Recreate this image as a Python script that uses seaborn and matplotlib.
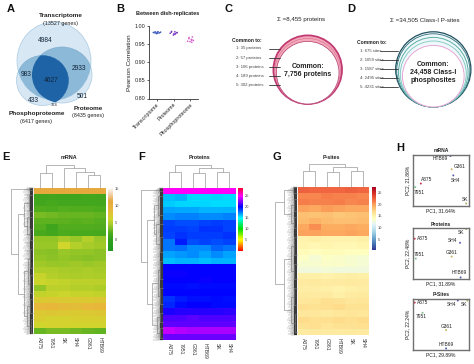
import matplotlib
matplotlib.use('Agg')
import matplotlib.pyplot as plt
import numpy as np
import pandas as pd
import seaborn as sns
from matplotlib.colors import LinearSegmentedColormap
from matplotlib.patches import Ellipse, Circle

# ---------- data ----------
venn_counts = ['4984', '983', '4627', '2933', '433', '374', '501']

replicate_groups = ['Transcriptome', 'Proteome', 'Phosphoproteome']
transcriptome_r = [0.981, 0.982, 0.983, 0.984, 0.980, 0.982, 0.981, 0.983, 0.979, 0.984]
proteome_r = [0.975, 0.978, 0.980, 0.982, 0.984, 0.985, 0.979, 0.983, 0.981, 0.977]
phospho_r = [0.955, 0.958, 0.960, 0.962, 0.965, 0.968, 0.957, 0.963, 0.970, 0.961]

proteins_common = ['1: 35 proteins', '2: 57 proteins', '3: 106 proteins', '4: 189 proteins', '5: 302 proteins']
sites_common = ['1: 675 sites', '2: 1059 sites', '3: 1587 sites', '4: 2495 sites', '5: 4231 sites']

mrna_cols = ['A375', '7951', 'SK', 'SH4', 'G361', 'HTB69']
protein_cols = ['A375', '7951', 'G361', 'HTB69', 'SK', 'SH4']
psite_cols = ['A375', '7951', 'G361', 'HTB69', 'SK', 'SH4']

mrna_rows = [
    [11.3, 11.3, 11.3, 11.3, 11.3, 11.3],
    [0.8, 0.9, 0.8, 0.8, 1.0, 0.9],
    [1.0, 1.2, 1.0, 1.1, 1.0, 1.0],
    [1.8, 1.6, 2.0, 1.8, 1.8, 1.6],
    [3.0, 2.8, 2.5, 2.5, 2.6, 2.4],
    [2.3, 2.3, 2.2, 2.1, 2.2, 2.0],
    [2.0, 0.8, 1.8, 1.9, 1.9, 1.7],
    [1.3, 1.0, 1.5, 1.3, 1.3, 1.2],
    [3.8, 3.8, 4.5, 4.0, 5.0, 4.0],
    [4.0, 4.0, 6.0, 5.0, 4.5, 4.2],
    [3.6, 3.5, 4.0, 3.8, 3.8, 3.6],
    [3.8, 3.6, 3.8, 3.6, 3.5, 3.6],
    [4.2, 4.0, 4.0, 4.2, 4.0, 4.2],
    [4.8, 4.8, 4.5, 4.4, 4.6, 4.4],
    [5.6, 5.0, 4.8, 4.6, 4.8, 4.6],
    [5.8, 5.6, 5.4, 5.2, 5.2, 5.2],
    [3.8, 5.2, 5.2, 5.0, 5.0, 4.8],
    [5.4, 5.6, 5.8, 5.6, 5.6, 5.4],
    [7.0, 7.2, 7.0, 7.2, 7.0, 7.4],
    [8.6, 8.8, 8.4, 8.2, 8.6, 8.8],
    [7.2, 7.4, 7.2, 7.0, 7.2, 7.4],
    [6.8, 6.4, 6.4, 6.6, 6.6, 6.6],
    [6.0, 6.4, 6.2, 6.2, 6.2, 6.2],
    [2.5, 3.0, 3.0, 2.8, 2.6, 2.4],
]
protein_rows = [
    [25.0, 25.0, 25.0, 25.0, 25.0, 25.0],
    [16.2, 16.4, 15.6, 15.6, 15.8, 15.6],
    [16.0, 15.8, 15.8, 15.8, 15.6, 15.6],
    [16.8, 16.6, 16.6, 16.4, 16.4, 16.4],
    [17.2, 17.4, 17.4, 17.2, 17.2, 17.4],
    [18.6, 18.4, 18.4, 18.6, 18.8, 18.6],
    [18.8, 18.8, 18.6, 19.0, 19.0, 18.6],
    [18.6, 19.0, 18.8, 18.8, 18.8, 19.0],
    [17.6, 19.4, 18.4, 18.6, 18.4, 18.6],
    [17.6, 17.8, 17.2, 17.2, 18.0, 17.6],
    [16.8, 17.0, 17.2, 16.8, 17.2, 16.8],
    [16.2, 16.4, 16.4, 16.2, 16.4, 16.4],
    [20.0, 20.0, 20.0, 20.0, 20.0, 20.0],
    [20.1, 20.1, 20.0, 20.0, 20.0, 20.0],
    [20.0, 20.0, 20.0, 20.1, 20.0, 20.0],
    [19.8, 19.8, 19.6, 19.8, 19.8, 19.8],
    [19.9, 19.9, 19.9, 19.9, 19.9, 19.9],
    [19.0, 19.4, 19.6, 19.6, 19.8, 19.6],
    [19.2, 19.8, 20.0, 20.0, 19.8, 19.8],
    [20.4, 20.6, 20.6, 20.6, 20.6, 20.8],
    [21.4, 21.4, 21.6, 21.4, 21.4, 21.4],
    [21.8, 21.8, 21.8, 21.8, 21.8, 21.8],
    [23.8, 23.4, 23.2, 23.2, 23.2, 23.2],
    [22.0, 22.0, 22.0, 22.0, 22.0, 22.0],
]
psite_rows = [
    [22.6, 22.4, 22.4, 22.4, 22.6, 22.4],
    [21.0, 21.0, 21.4, 21.2, 21.2, 21.0],
    [21.4, 21.2, 21.2, 21.4, 21.0, 21.2],
    [19.8, 19.6, 20.0, 19.8, 19.6, 19.6],
    [18.4, 18.2, 18.4, 18.0, 18.2, 18.4],
    [18.6, 19.0, 18.6, 18.4, 18.4, 18.6],
    [19.6, 20.6, 19.4, 19.4, 19.6, 19.4],
    [19.8, 19.8, 19.6, 19.6, 19.8, 19.6],
    [15.0, 15.2, 15.0, 15.0, 15.0, 15.2],
    [14.8, 14.6, 14.8, 14.6, 14.6, 14.8],
    [14.2, 14.0, 14.2, 14.2, 14.0, 14.0],
    [13.6, 13.0, 13.6, 13.4, 13.2, 13.0],
    [13.2, 13.2, 13.4, 13.4, 13.2, 13.0],
    [12.6, 12.6, 12.8, 12.6, 12.6, 12.6],
    [15.2, 15.2, 15.0, 15.2, 15.4, 15.2],
    [15.6, 15.8, 15.6, 15.6, 15.8, 15.6],
    [15.4, 15.4, 15.2, 15.0, 15.2, 15.4],
    [15.8, 15.6, 15.6, 15.2, 15.6, 15.8],
    [16.0, 16.2, 16.6, 16.4, 16.0, 16.2],
    [16.6, 16.4, 16.6, 16.8, 16.4, 16.4],
    [16.0, 16.0, 15.8, 16.0, 16.2, 16.0],
    [16.8, 16.6, 16.6, 16.8, 16.6, 16.8],
    [16.4, 16.6, 16.2, 16.4, 16.4, 16.6],
    [15.6, 15.8, 15.6, 15.6, 15.8, 15.6],
]

pca_cells = ['A375', '7951', 'G361', 'SH4', 'SK', 'HTB69']
pca_colors = ['#d0304a', '#7fbf8f', '#c8b060', '#5a5ab0', '#b0b060', '#5060b0']
mrna_pc1 = [14, 4, 69, 72, 95, 67]
mrna_pc2 = [44, 37, 72, 60, 5, 98]
protein_pc1 = [3, 5, 69, 84, 95, 85]
protein_pc2 = [79, 40, 44, 71, 98, 3]
psite_pc1 = [3, 17, 59, 80, 97, 59]
psite_pc2 = [93, 73, 39, 97, 97, 3]

# ---------- set up ----------
sns.set_style('white')
plt.rcParams['font.family'] = ['Liberation Sans', 'DejaVu Sans']
W, H = 474, 364
fig = plt.figure(figsize=(W / 100, H / 100), dpi=100, facecolor='white')


def px_axes(x0, y0, x1, y1, **kw):
    return fig.add_axes([x0 / W, 1 - y1 / H, (x1 - x0) / W, (y1 - y0) / H], **kw)


# overlay in picture pixels, for text, venns and trees
ov = px_axes(0, 0, W, H, zorder=5)
ov.set_xlim(0, W)
ov.set_ylim(H, 0)
ov.axis('off')
ov.patch.set_alpha(0)

TXT = '#222222'


def t(x, y, s, size=4.0, bold=False, ha='center', color=TXT, rot=0, va='center'):
    ov.text(x, y, s, fontsize=size, fontweight='bold' if bold else 'normal',
            ha=ha, va=va, color=color, rotation=rot)


for letter, lx, ly in [('A', 11, 9), ('B', 120, 9), ('C', 229, 9), ('D', 351, 9), ('E', 6, 157),
                       ('F', 142, 157), ('G', 277, 157), ('H', 400, 148)]:
    t(lx, ly, letter, size=8, bold=True, color='#111111')

# ---------- A: venn ----------
LIGHT, MID, DARK, EDGE = '#d7e7f4', '#8cb9d8', '#1d63a6', '#a9cbe3'
t_shape = dict(xy=(54, 61), width=74, height=78)
ph_shape = dict(xy=(42.5, 80.5), width=52, height=50)
pr_shape = dict(xy=(62, 75), width=60, height=56)
ov.add_patch(Ellipse(**ph_shape, fc=LIGHT, ec=EDGE, lw=0.5))
ov.add_patch(Ellipse(**pr_shape, fc=LIGHT, ec=EDGE, lw=0.5))
clip_t = Ellipse(**t_shape, fc=LIGHT, ec=EDGE, lw=0.5)
ov.add_patch(clip_t)
for shape in (ph_shape, pr_shape):
    part = Ellipse(**shape, fc=MID, ec='#7aa9cc', lw=0.4)
    ov.add_patch(part)
    part.set_clip_path(clip_t)
clip_pr = Ellipse(**pr_shape, fc='none', ec='none')
ov.add_patch(clip_pr)
core = Ellipse(**ph_shape, fc=DARK, ec=DARK, lw=0.3)
ov.add_patch(core)
core.set_clip_path(clip_pr)

venn_xy = [(45, 40), (26, 75), (51, 80), (79, 68), (33, 101), (54, 104.5), (82, 97)]
for (vx, vy), lab in zip(venn_xy, venn_counts):
    t(vx, vy, lab, size=3.0 if lab == '374' else 4.8, color='#12263a')
t(61, 16, 'Transcriptome', size=4.6, bold=True)
t(61, 23, '(13527 genes)', size=3.9)
t(37, 114, 'Phosphoproteome', size=4.6, bold=True)
t(36, 122, '(6417 genes)', size=3.9)
t(88, 109, 'Proteome', size=4.6, bold=True)
t(88, 116, '(8435 genes)', size=3.9)

# ---------- B: replicate correlations ----------
rep_df = pd.DataFrame({
    'group': np.repeat(replicate_groups, [len(transcriptome_r), len(proteome_r), len(phospho_r)]),
    'r': transcriptome_r + proteome_r + phospho_r,
})
ax_b = px_axes(149, 26, 198, 98.5)
sns.stripplot(data=rep_df, x='group', y='r', hue='group', ax=ax_b, jitter=0.25, size=1.2, linewidth=0,
              palette=['#3f5cc0', '#7a3fc0', '#d763cf'], legend=False)
ax_b.set_ylim(0.80, 1.00)
ax_b.set_yticks([0.80, 0.85, 0.90, 0.95, 1.00])
ax_b.set_yticklabels(['0.80', '0.85', '0.90', '0.95', '1.00'])
ax_b.set_xlabel('')
ax_b.set_ylabel('Pearson Correlation', fontsize=4.6, color=TXT, labelpad=2)
ax_b.tick_params(axis='y', labelsize=3.9, length=1.5, width=0.5, pad=1, left=True, colors=TXT)
ax_b.tick_params(axis='x', labelsize=3.9, length=1.5, width=0.5, pad=1, bottom=True, colors=TXT)
plt.setp(ax_b.get_xticklabels(), rotation=45, ha='right', rotation_mode='anchor')
sns.despine(ax=ax_b)
for s in ('left', 'bottom'):
    ax_b.spines[s].set_linewidth(0.6)
    ax_b.spines[s].set_color('#333333')
t(168, 13.5, 'Between dish-replicates', size=4.0, bold=True)

# ---------- C and D: nested rings ----------
t(301, 19.5, '\u03a3 =8,455 proteins', size=4.4)
t(425, 19.5, '\u03a3 =34,505 Class-I P-sites', size=4.4)
t(232, 41, 'Common to:', size=3.6, bold=True, ha='left')
t(357, 43, 'Common to:', size=3.6, bold=True, ha='left')

c_x, c_bottom = 307.7, 104
c_rings = [(34.3, '#c23a73', '#f4a9b9', 1.3), (32.8, '#d56a94', '#f4a9b9', 0.4), (31.3, '#b0396d', 'white', 0.5)]
for r, ec, fc, lw in c_rings:
    ov.add_patch(Circle((c_x, c_bottom - r), r, ec=ec, fc=fc, lw=lw))
t(c_x, 67, 'Common:', size=5.0, bold=True)
t(c_x, 75, '7,756 proteins', size=5.0, bold=True)

for i, lab in enumerate(proteins_common):
    y = 48.5 + i * 9.1
    t(236, y, lab, size=3.1, ha='left', color='#444444')
    ov.plot([269, 280], [y, y], color='#333333', lw=0.6)

d_x, d_bottom = 433.3, 107
d_rings = [(37.6, '#23505f', 0.9), (36.6, '#2c6f7a', 0.6), (34.8, '#5ab1a6', 0.7), (33.0, '#7fc7c2', 0.6),
           (30.8, '#e59ad2', 0.6)]
for r, ec, lw in d_rings:
    ov.add_patch(Circle((d_x, d_bottom - r), r, ec=ec, fc='#eef7f9' if r > 31 else 'white', lw=lw))
t(d_x, 65, 'Common:', size=5.0, bold=True)
t(d_x, 72.5, '24,458 Class-I', size=5.0, bold=True)
t(d_x, 80.5, 'phosphosites', size=5.0, bold=True)

for i, lab in enumerate(sites_common):
    y = 50.5 + i * 9.1
    t(360.5, y, lab, size=3.1, ha='left', color='#444444')
    ov.plot([380.5, 398], [y, y], color='#333333', lw=0.6)

# ---------- E, F, G: heatmaps ----------
cmap_mrna = LinearSegmentedColormap.from_list('mrna', [
    (0.0, '#1f9a1e'), (0.18, '#2f9f1c'), (0.29, '#55ae1e'), (0.40, '#9cc828'), (0.505, '#d0d62c'),
    (0.645, '#e8b83a'), (0.79, '#e6a83c'), (0.9, '#f0d0a8'), (1.0, '#fbfafa')])
cmap_prot = LinearSegmentedColormap.from_list('prot', [
    (0.0, '#ff0000'), (0.175, '#ffff00'), (0.35, '#00e000'), (0.525, '#00ffff'), (0.70, '#0000ff'),
    (0.875, '#ff00ff'), (1.0, '#ff0030')])


def dendro(node, to_xy, color='#8f8f8f', lw=0.45):
    # node is (height, left, right); a plain number is a leaf position
    if not isinstance(node, tuple):
        return node, 1.0
    h, left, right = node
    p0, h0 = dendro(left, to_xy, color, lw)
    p1, h1 = dendro(right, to_xy, color, lw)
    pts = [to_xy(p0, h0), to_xy(p0, h), to_xy(p1, h), to_xy(p1, h1)]
    ov.plot([a[0] for a in pts], [a[1] for a in pts], color=color, lw=lw, solid_capstyle='butt')
    return (p0 + p1) / 2, h


def draw_heat(rows, cols, cmap, vmin, vmax, box, cbar_box, ticks, title, title_x,
              col_tree, row_tree, dend_left, col_top):
    x0, y0, x1, y1 = box
    ax = px_axes(x0, y0, x1, y1)
    cax = px_axes(*cbar_box)
    df = pd.DataFrame(rows, columns=cols)
    sns.heatmap(df, ax=ax, cmap=cmap, vmin=vmin, vmax=vmax, cbar_ax=cax, yticklabels=False,
                xticklabels=True, cbar_kws={'ticks': ticks})
    ax.tick_params(axis='x', length=0, pad=2.5, labelsize=3.7, labelcolor='#333333', labelrotation=270)
    cax.tick_params(labelsize=2.9, length=0, pad=1.5, colors='#444444')
    ax.collections[0].colorbar.outline.set_visible(False)
    t(title_x, 157.5, title, size=3.9, bold=True)

    col_w = (x1 - x0) / len(cols)
    dendro(col_tree, lambda p, h: (x0 + (p + 0.5) * col_w, col_top + h * (y0 - col_top)))
    dend_w = x0 - dend_left
    dendro(row_tree, lambda p, h: (dend_left + h * dend_w, y0 + p * (y1 - y0)))
    # dense leaves along the edge of the heatmap
    fringe = [4.2, 6.4, 3.6, 7.4, 5.0, 9.2, 3.8, 6.8, 4.8, 10.0, 5.2, 3.4, 8.0, 4.0, 6.0, 9.6]
    n = int(y1 - y0) * 2
    for i in range(n):
        y = y0 + (i + 0.5) * (y1 - y0) / n
        ln = fringe[i % len(fringe)]
        ov.plot([x0 - ln, x0], [y, y], color='#6a6a6a', lw=0.25)
    ov.fill_betweenx([y0, y1], x0 - 3.0, x0, color='#050505', lw=0)


tree_e_cols = (0.0, (0.35, 0, 1), (0.15, 2, (0.32, 3, (0.45, 4, 5))))
tree_fg_cols = (0.0, (0.3, 0, 1), (0.12, (0.35, 2, 3), (0.3, 4, 5)))

tree_e_rows = (0.0, (0.78, 0.0, 0.02),
               (0.32, (0.58, (0.8, 0.05, 0.16), (0.7, 0.2, (0.85, 0.28, 0.36))),
                (0.58, (0.75, (0.85, 0.42, 0.55), (0.85, 0.6, 0.72)),
                 (0.72, (0.85, 0.76, 0.86), (0.88, 0.9, 0.99)))))
tree_f_rows = (0.0, (0.8, 0.0, 0.02),
               (0.28, (0.6, (0.78, 0.05, 0.18), (0.7, 0.24, (0.85, 0.32, 0.42))),
                (0.5, (0.78, (0.85, 0.48, 0.6), (0.88, 0.66, 0.76)),
                 (0.72, (0.85, 0.82, 0.88), (0.88, 0.92, 0.99)))))
tree_g_rows = (0.0, (0.42, (0.8, 0.0, 0.04), (0.7, (0.85, 0.08, 0.16), (0.85, 0.2, 0.28))),
               (0.42, (0.72, (0.85, 0.34, 0.46), (0.85, 0.52, 0.62)),
                (0.72, (0.85, 0.68, 0.8), (0.88, 0.86, 0.98))))

draw_heat(mrna_rows, mrna_cols, cmap_mrna, -3.4, 15.2, (33.5, 187.5, 106, 334), (108, 188, 112.5, 250.5),
          [0, 5, 10, 15], 'mRNA', 69, tree_e_cols, tree_e_rows, 11, 165)
draw_heat(protein_rows, protein_cols, cmap_prot, 0, 28.5, (163, 188, 235.5, 340), (237.5, 188, 242.5, 251),
          [5, 10, 15, 20, 25], 'Proteins', 199, tree_fg_cols, tree_f_rows, 141, 165)
draw_heat(psite_rows, psite_cols, 'RdYlBu_r', 0.3, 27.5, (297.5, 187, 369, 335), (371.5, 187, 376, 250),
          [5, 10, 15, 20, 25], 'P-sites', 331, tree_fg_cols, tree_g_rows, 275, 164)

# ---------- H: PCA ----------
pca_panels = [
    (155, 206, mrna_pc1, mrna_pc2, 'mRNA', 'PC1, 31.64%', 'PC2, 21.86%',
     {'A375': (427, 179.7), '7951': (419, 192), 'G361': (460, 166.7), 'SH4': (456, 180.7), 'SK': (464.7, 199.7),
      'HTB69': (440.3, 158)}),
    (228, 279, protein_pc1, protein_pc2, 'Proteins', 'PC1, 31.89%', 'PC2, 22.48%',
     {'A375': (423, 239), '7951': (419.7, 254.7), 'G361': (451.7, 253), 'SH4': (453, 241), 'SK': (461.3, 233),
      'HTB69': (459, 273)}),
    (299, 350, psite_pc1, psite_pc2, 'P-Sites', 'PC1, 29.89%', 'PC2, 22.24%',
     {'A375': (423, 303), '7951': (421, 316.7), 'G361': (446.3, 326.7), 'SH4': (451.7, 304.7), 'SK': (464.3, 304.7),
      'HTB69': (446, 344)}),
]
for top, bottom, pc1, pc2, title, xlab, ylab, lab_xy in pca_panels:
    ax = px_axes(413, top, 469, bottom)
    pca_df = pd.DataFrame({'pc1': pc1, 'pc2': pc2, 'cell': pca_cells})
    sns.scatterplot(data=pca_df, x='pc1', y='pc2', hue='cell', palette=pca_colors, s=2.0, linewidth=0,
                    ax=ax, legend=False)
    ax.set_xlim(0, 100)
    ax.set_ylim(0, 100)
    ax.set_xticks([])
    ax.set_yticks([])
    ax.set_xlabel('')
    ax.set_ylabel('')
    for s in ax.spines.values():
        s.set_linewidth(1.0)
        s.set_color('#707070')
    t(441, top - 4, title, size=3.6, bold=True)
    t(441, bottom + 4.5, xlab, size=3.6)
    t(408, (top + bottom) / 2, ylab, size=3.6, rot=90)
    for cell, (lx, ly) in lab_xy.items():
        t(lx, ly, cell, size=3.5)

fig.savefig('out.png', dpi=100)
